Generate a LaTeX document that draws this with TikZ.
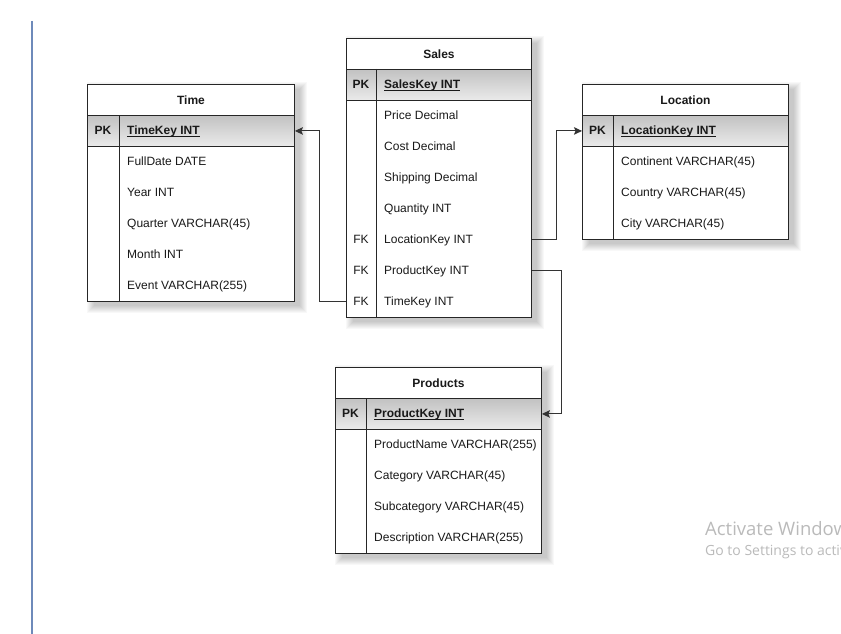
\documentclass[tikz,border=0pt]{standalone}
\usepackage{fontspec}
\setmainfont{Liberation Sans}
\newfontfamily\winfont{Open Sans}
\usetikzlibrary{arrows.meta,calc,backgrounds}

\newcommand\pkline[1]{\underline{\smash{#1}}}

\tikzset{
    tabframe/.style={draw=black!85, line width=0.9pt, fill=white, inner sep=0pt, anchor=north west},
    tabhead/.style={draw=black!85, line width=0.9pt, fill=white, inner sep=0pt, anchor=north west,
        minimum height=31pt, font=\fontsize{12pt}{14pt}\selectfont\bfseries},
    pkrow/.style={draw=black!85, line width=0.9pt, top color=black!24, bottom color=black!8,
        inner sep=0pt, anchor=north west, minimum height=31pt},
    keytag/.style={inner sep=0pt, text height=8.6pt, text depth=0pt},
    pkname/.style={inner sep=0pt, anchor=west, text height=8.6pt, text depth=0pt,
        font=\fontsize{12pt}{14pt}\selectfont\bfseries},
    field/.style={inner sep=0pt, anchor=west, text height=8.6pt, text depth=0pt},
    tabline/.style={draw=black!85, line width=0.9pt},
    fkline/.style={draw=black!80, line width=1pt, -{Stealth[length=8pt, width=7.5pt, inset=1.5pt]}},
    softshade/.style={fill=black, fill opacity=0.028},
    winmark/.style={inner sep=0pt, anchor=base west, text=black!27},
}

\begin{document}
\begin{tikzpicture}[x=1pt, y=-1pt, font=\fontsize{12pt}{14pt}\selectfont, text=black!90]
    \clip (0,0) rectangle (841,634);

    % left margin rule
    \draw[draw={rgb,255:red,110;green,138;blue,186}, line width=1.4pt] (32,21) -- (32,634);

    % Sales
    \node[tabframe, minimum width=185pt, minimum height=279pt] (sales) at (346,38) {};
    \node[tabhead, minimum width=185pt] (sales-head) at (346,38) {Sales};
    \node[pkrow, minimum width=185pt] (sales-pk) at (346,69) {};
    \node[keytag, font=\fontsize{12pt}{14pt}\selectfont\bfseries] (sales-pk-tag) at (361,84.5) {PK};
    \node[pkname] (sales-pk-name) at (384,84.5) {\pkline{SalesKey INT}};
    \draw[tabline] (376,69) -- (376,317);
    \foreach \f [count=\i] in {Price Decimal, Cost Decimal, Shipping Decimal, Quantity INT,
            LocationKey INT, ProductKey INT, TimeKey INT}
        \node[field] (sales-\i) at (384,84.5+31*\i) {\f};
    \foreach \i in {5,6,7}
        \node[keytag] (sales-fk\i) at (361,84.5+31*\i) {FK};

    % Time
    \node[tabframe, minimum width=207pt, minimum height=217pt] (time) at (87,84) {};
    \node[tabhead, minimum width=207pt] (time-head) at (87,84) {Time};
    \node[pkrow, minimum width=207pt] (time-pk) at (87,115) {};
    \node[keytag, font=\fontsize{12pt}{14pt}\selectfont\bfseries] (time-pk-tag) at (103,130.5) {PK};
    \node[pkname] (time-pk-name) at (127,130.5) {\pkline{TimeKey INT}};
    \draw[tabline] (119,115) -- (119,301);
    \foreach \f [count=\i] in {FullDate DATE, Year INT, Quarter VARCHAR(45), Month INT, Event VARCHAR(255)}
        \node[field] (time-\i) at (127,130.5+31*\i) {\f};

    % Location
    \node[tabframe, minimum width=206pt, minimum height=155pt] (loc) at (582,84) {};
    \node[tabhead, minimum width=206pt] (loc-head) at (582,84) {Location};
    \node[pkrow, minimum width=206pt] (loc-pk) at (582,115) {};
    \node[keytag, font=\fontsize{12pt}{14pt}\selectfont\bfseries] (loc-pk-tag) at (597.5,130.5) {PK};
    \node[pkname] (loc-pk-name) at (621,130.5) {\pkline{LocationKey INT}};
    \draw[tabline] (613,115) -- (613,239);
    \foreach \f [count=\i] in {Continent VARCHAR(45), Country VARCHAR(45), City VARCHAR(45)}
        \node[field] (loc-\i) at (621,130.5+31*\i) {\f};

    % Products
    \node[tabframe, minimum width=206pt, minimum height=186pt] (prod) at (335,367) {};
    \node[tabhead, minimum width=206pt] (prod-head) at (335,367) {Products};
    \node[pkrow, minimum width=206pt] (prod-pk) at (335,398) {};
    \node[keytag, font=\fontsize{12pt}{14pt}\selectfont\bfseries] (prod-pk-tag) at (350.5,413.5) {PK};
    \node[pkname] (prod-pk-name) at (374,413.5) {\pkline{ProductKey INT}};
    \draw[tabline] (366,398) -- (366,553);
    \foreach \f [count=\i] in {ProductName VARCHAR(255), Category VARCHAR(45), Subcategory VARCHAR(45),
            Description VARCHAR(255)}
        \node[field] (prod-\i) at (374,413.5+31*\i) {\f};

    % soft shadows behind the tables
    \begin{scope}[on background layer]
        \fill[white] (0,0) rectangle (841,634);
        \foreach \t in {sales,time,loc,prod}
            \foreach \k in {1,...,8}
                \fill[softshade] ($(\t.north west)+(8-\k,6-\k)$) rectangle ($(\t.south east)+(4+\k,3+\k)$);
    \end{scope}

    % foreign keys
    \draw[fkline] (sales.west |- sales-fk7) -- ++(-27,0) |- (time-pk.east);
    \draw[fkline] (sales.east |- sales-fk5) -- ++(25,0) |- (loc-pk.west);
    \draw[fkline] (sales.east |- sales-fk6) -- ++(30,0) |- (prod-pk.east);

    % watermark
    \node[winmark, font=\winfont\fontsize{18.5pt}{22pt}\selectfont] (win-a) at (705,535) {Activate Windows};
    \node[winmark, font=\winfont\fontsize{14pt}{16pt}\selectfont] (win-b) at (705,555) {Go to Settings to activate Windows.};
\end{tikzpicture}
\end{document}
